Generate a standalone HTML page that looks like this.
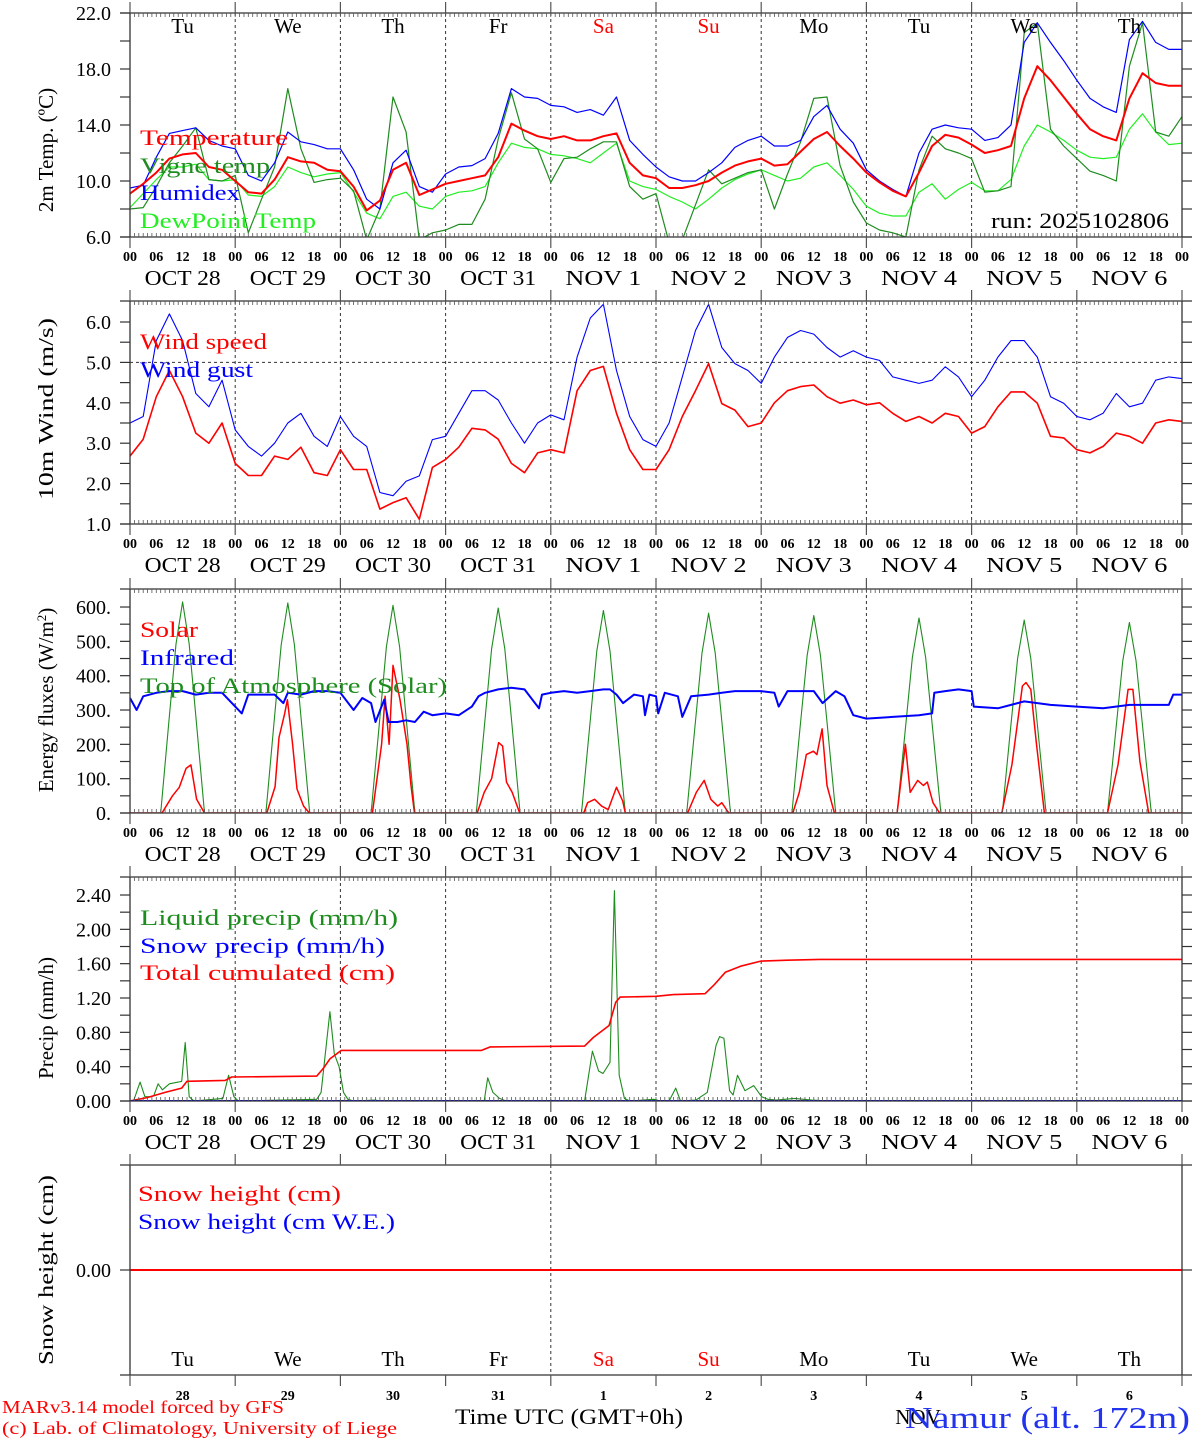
<!DOCTYPE html>
<html><head><meta charset="utf-8">
<style>
html,body{margin:0;padding:0;background:#fff;}
svg{display:block;font-family:"Liberation Serif",serif;}
.tk{font-size:14px;font-weight:bold;text-anchor:middle;}
.dt{font-size:21px;text-anchor:middle;}
.yl{font-size:20px;text-anchor:end;}
.lg{font-size:22px;}
.at{font-size:21px;text-anchor:middle;}
</style></head>
<body>
<svg id="chart" xmlns="http://www.w3.org/2000/svg" width="1194" height="1440" viewBox="0 0 1194 1440">
<rect x="0" y="0" width="1194" height="1440" fill="#fff"/>
<g id="grid"></g>
<g id="marks"></g>
<g id="axes"></g>

<!-- Axis titles -->
<text class="at" transform="translate(53,150) rotate(-90)">2m Temp. (ºC)</text>
<text class="at" transform="translate(53,409) rotate(-90)" textLength="182">10m Wind (m/s)</text>
<text class="at" transform="translate(53,700) rotate(-90)">Energy fluxes (W/m<tspan dy="-7" font-size="13">2</tspan><tspan dy="7">)</tspan></text>
<text class="at" transform="translate(53,1018) rotate(-90)">Precip (mm/h)</text>
<text class="at" transform="translate(53,1270) rotate(-90)" textLength="190">Snow height (cm)</text>

<!-- Legends -->
<text class="lg" x="140" y="145" fill="#ff0000" textLength="148">Temperature</text>
<text class="lg" x="140" y="173" fill="#1e8c1e" textLength="130">Vigne temp</text>
<text class="lg" x="140" y="200" fill="#0000ff" textLength="100">Humidex</text>
<text class="lg" x="140" y="228" fill="#22ee22" textLength="176">DewPoint Temp</text>
<text class="lg" x="991" y="228" fill="#000" textLength="178">run: 2025102806</text>

<text class="lg" x="140" y="349" fill="#ff0000" textLength="127">Wind speed</text>
<text class="lg" x="140" y="377" fill="#0000ff" textLength="113">Wind gust</text>

<text class="lg" x="140" y="637" fill="#ff0000" textLength="58">Solar</text>
<text class="lg" x="140" y="665" fill="#0000ff" textLength="94">Infrared</text>
<text class="lg" x="140" y="693" fill="#1e8c1e" textLength="307">Top of Atmosphere (Solar)</text>

<text class="lg" x="140" y="925" fill="#1e8c1e" textLength="258">Liquid precip (mm/h)</text>
<text class="lg" x="140" y="953" fill="#0000ff" textLength="245">Snow precip (mm/h)</text>
<text class="lg" x="140" y="980" fill="#ff0000" textLength="255">Total cumulated (cm)</text>

<text class="lg" x="138" y="1201" fill="#ff0000" textLength="203">Snow height (cm)</text>
<text class="lg" x="138" y="1229" fill="#0000ff" textLength="257">Snow height (cm W.E.)</text>

<!-- Footer -->
<text x="2" y="1413" font-size="18" fill="#ff0000" textLength="282">MARv3.14 model forced by GFS</text>
<text x="2" y="1434" font-size="18" fill="#ff0000" textLength="395">(c) Lab. of Climatology, University of Liege</text>
<text x="569" y="1424" font-size="22" text-anchor="middle" textLength="228">Time UTC (GMT+0h)</text>
<text x="918" y="1424" font-size="21" text-anchor="middle">NOV</text>
<text x="905" y="1428" font-size="31" fill="#2233ee" textLength="285">Namur (alt. 172m)</text>
</svg>

<script>
// ---------- DATA ----------
const dayNames = ["Tu","We","Th","Fr","Sa","Su","Mo","Tu","We","Th"];
const dayColors = ["#000","#000","#000","#000","#ff0000","#ff0000","#000","#000","#000","#000"];
const dateLabels = ["OCT 28","OCT 29","OCT 30","OCT 31","NOV  1","NOV  2","NOV  3","NOV  4","NOV  5","NOV  6"];
const dayNumbers = ["28","29","30","31","1","2","3","4","5","6"];
const hourLabels = ["00","06","12","18"];

// 3-hourly series (index*3 = hours since Oct 28 00 UTC)
const temperature = [9.1,9.8,10.6,11.6,11.9,12.0,11.0,10.8, 10.0,9.2,9.1,10.1,11.7,11.4,11.3,10.8, 10.7,9.6,7.9,8.6,10.8,11.3,9.0,9.4, 9.8,10.0,10.2,10.4,11.7,14.1,13.6,13.2, 13.0,13.2,12.9,12.9,13.2,13.4,11.3,10.4, 10.2,9.5,9.5,9.7,10.0,10.6,11.1,11.4, 11.6,11.1,11.2,12.1,13.0,13.5,12.5,11.6, 10.6,9.9,9.3,8.9,10.6,12.5,13.3,13.1, 12.6,12.0,12.2,12.5,15.9,18.2,17.2,16.0, 14.8,13.7,13.2,12.9,15.9,17.7,17.0,16.8, 16.8];
const humidex = [9.5,9.7,11.7,13.4,13.6,13.8,12.9,12.5, 12.3,10.4,10.0,11.3,13.5,12.8,12.6,12.3, 12.3,10.8,8.7,8.0,11.3,12.2,9.6,9.2, 10.5,11.0,11.1,11.6,13.4,16.6,16.0,15.9, 15.4,15.3,14.9,15.1,14.7,16.0,12.9,11.9, 11.0,10.3,10.0,10.0,10.6,11.3,12.4,12.9, 13.2,12.5,12.5,12.9,14.6,15.4,13.7,12.7, 10.8,10.0,9.4,8.9,12.0,13.7,14.0,13.8, 13.7,12.9,13.1,14.0,19.9,21.3,19.9,18.6, 17.2,15.9,15.3,14.9,20.1,21.4,19.9,19.4, 19.4];
const dewPoint = [8.1,9.1,10.1,11.0,11.0,11.2,10.1,10.0, 10.1,9.0,8.9,9.6,11.0,10.6,10.3,10.5, 10.6,9.2,7.7,7.3,8.9,9.2,8.2,8.0, 8.9,9.2,9.3,9.6,11.3,12.7,12.4,12.3, 11.9,11.8,11.6,11.3,12.0,12.7,10.0,9.6, 9.4,8.9,8.5,8.0,8.7,9.5,10.1,10.5, 10.8,10.4,10.0,10.2,11.0,11.3,10.4,9.4, 8.2,7.7,7.5,7.5,9.2,9.8,8.7,9.4, 9.9,9.3,9.3,10.1,12.5,14.0,13.5,12.9, 12.2,11.7,11.6,11.7,13.7,14.8,13.5,12.6, 12.7];
const vigneTemp = [8.0,8.1,9.6,11.3,12.5,13.8,10.1,10.0, 10.4,6.3,8.7,11.0,16.6,12.3,9.9,10.1, 10.2,9.3,5.8,8.0,16.0,13.5,5.8,6.3, 6.5,6.9,6.9,8.7,13.0,16.3,13.0,12.3, 9.9,11.6,11.7,12.3,12.8,12.8,9.6,8.7, 9.1,5.6,5.8,8.3,10.8,9.8,10.2,10.6, 10.8,8.0,10.5,12.8,15.9,16.0,11.1,8.5, 7.0,6.5,6.3,6.0,10.8,13.2,12.3,12.0, 11.6,9.2,9.3,9.6,20.6,21.3,13.7,12.5, 11.6,10.7,10.4,10.0,18.2,21.3,13.5,13.2, 14.6];
const windSpeed = [2.68,3.1,4.15,4.8,4.15,3.25,3.0,3.5, 2.5,2.2,2.2,2.68,2.6,2.9,2.27,2.2, 2.84,2.35,2.35,1.37,1.53,1.65,1.12,2.4, 2.6,2.9,3.37,3.33,3.1,2.5,2.27,2.76, 2.84,2.76,4.3,4.8,4.9,3.74,2.84,2.35, 2.35,2.84,3.66,4.3,4.97,3.98,3.82,3.41, 3.5,4.0,4.3,4.4,4.44,4.15,3.99,4.07, 3.95,4.0,3.74,3.54,3.66,3.5,3.74,3.66, 3.25,3.41,3.9,4.27,4.27,3.99,3.17,3.13, 2.84,2.76,2.92,3.25,3.17,3.0,3.5,3.58, 3.54];
const windGust = [3.5,3.66,5.54,6.2,5.54,4.23,3.9,4.56, 3.33,2.92,2.68,3.0,3.5,3.74,3.17,2.92, 3.66,3.17,2.92,1.78,1.7,2.06,2.19,3.09, 3.17,3.74,4.3,4.3,4.07,3.5,3.0,3.5, 3.7,3.58,5.13,6.1,6.44,4.8,3.66,3.09, 2.92,3.5,4.64,5.79,6.44,5.37,4.97,4.8, 4.48,5.13,5.62,5.79,5.7,5.37,5.13,5.29, 5.13,5.05,4.64,4.56,4.48,4.56,4.89,4.64, 4.15,4.56,5.13,5.54,5.54,5.13,4.15,3.99, 3.66,3.58,3.74,4.23,3.9,3.99,4.56,4.64, 4.6];

// irregular-time series: hours + values
const toaHours = [0,7,9,10.5,12,13.5,15,17, 31,33,34.5,36,37.5,39,41, 55,57,58.5,60,61.5,63,65, 79,81,82.5,84,85.5,87,89, 103,105,106.5,108,109.5,111,113, 127,129,130.5,132,133.5,135,137, 151,153,154.5,156,157.5,159,161, 175,177,178.5,180,181.5,183,185, 199,201,202.5,204,205.5,207,209, 223,225,226.5,228,229.5,231,233, 240];
const toaValues = [0,0,283,492,615,492,283,0, 0,282,490,612,490,282,0, 0,278,484,605,484,278,0, 0,275,478,597,478,275,0, 0,271,472,590,472,271,0, 0,268,466,582,466,268,0, 0,265,460,575,460,265,0, 0,261,454,568,454,261,0, 0,259,450,562,450,259,0, 0,255,444,555,444,255,0, 0];
const solarHours = [0,7.3,9.7,11.25,12.8,13.9,15.2,17, 31.2,33.1,34,35.3,35.9,37.1,38.1,39.6,40.9, 55.3,57.4,58.2,59.1,60,61.6,63.2,64.1,64.9, 79.2,80.8,82.5,84.1,85,85.9,87.2,88.9, 103.5,104.4,106,107.6,109.1,111,112.4,113, 127.2,129.2,131,132.5,134.1,135,136.6, 151.2,152.7,154.3,155.9,156.7,157.9,159,160.7, 175,176.9,178,179.7,181,181.9,183.2,184.7, 198.9,201.2,203.6,204.4,205.5,206.8,208.6, 223,225.4,227.7,228.8,230.4,232.4,240];
const solarValues = [0,0,50,75,130,140,40,0, 0,77,220,290,330,200,70,20,0, 0,200,340,200,430,330,200,80,0, 0,60,100,205,195,90,60,0, 0,30,40,20,10,75,35,0, 0,60,95,40,20,30,0, 0,60,170,180,170,245,80,0, 0,200,60,95,80,90,30,0, 0,140,370,380,360,200,0, 0,140,360,360,150,0,0];
const irHours = [0,1.5,3,6,9,12,15,18,21, 24,25.5,27,30,33,35,36,39,42,45, 48,51,53,55,56,58,59,61,63,65,67,69, 72,75,78,79.5,81,84,87,90,93.3,94, 96,99,102,105,108,109.5,111,112.5,115,117,117.5,118.5, 120,120.5,122,125,126,128,132,135,138,141, 144,147,148,150,156,158,161,163,165, 168,174,180,183,183.5,186,189,192,192.5, 198,201,204,210,216,222,228,234,237,238,240];
const irValues = [335,300,340,350,355,355,345,350,350, 310,290,345,345,345,320,350,345,355,355, 350,300,335,320,265,330,265,265,270,265,295,285, 290,285,310,340,350,360,365,360,305,345, 350,355,350,355,360,360,345,320,345,340,285,345, 340,290,350,340,280,340,345,350,355,355, 355,350,310,355,355,320,355,340,285, 275,280,285,290,350,355,360,355,310, 305,315,325,315,310,305,315,315,315,345,345];
const precipHours = [0,0.8,2.3,3.4,4.7,5.4,6.4,7.4,9,11,11.8,12.6,13.5,14.6,21.2,22.5,23.7,24.7, 42.6,43.6,45.6,46.6,47.7,48.7,49.7,51,56,57, 80.8,81.6,82.8,84.3,85.8, 103.7,105.5,106.9,107.9,109.5,110.5,111.6,112.8,114, 119.5,121,123,124.5,125.6,129.1,131.7,133.7,134.5,135.5,136.8,137.6,138.6,140.3,142.3,144.1,145.5,147.5,151.6,155.5,160,240];
const precipValues = [0,0,0.22,0.05,0.05,0.06,0.2,0.13,0.2,0.22,0.23,0.68,0.05,0,0.03,0.3,0.05,0, 0.02,0.1,1.04,0.55,0.4,0.1,0.02,0,0.01,0, 0,0.27,0.1,0.03,0, 0,0.58,0.35,0.32,0.45,2.45,0.3,0.03,0, 0.02,0,0,0.15,0,0.01,0.1,0.65,0.75,0.73,0.12,0.07,0.3,0.12,0.18,0.05,0.02,0.01,0.03,0.01,0,0];
const cumHours = [0,3.9,8,11.8,13,21.7,23.2,42.6,44.1,45.6,48.2,80.2,82.2,103.7,105.7,109.3,110.8,111.8,120,124,131.2,133.2,135.8,139.3,143.9,150,157.4,240];
const cumValues = [0,0.04,0.1,0.15,0.23,0.24,0.28,0.29,0.38,0.49,0.59,0.59,0.63,0.64,0.74,0.88,1.15,1.21,1.22,1.24,1.25,1.35,1.5,1.57,1.63,1.64,1.65,1.65];
const snowPrecipHours = [0,240];
const snowPrecipValues = [0,0];
const snowHeightHours = [0,240];
const snowHeightValues = [0,0];

// tick label arrays
const tempTicks = [6,10,14,18,22];
const tempTickLabels = ["6.0","10.0","14.0","18.0","22.0"];
const tempMinor = [8,12,16,20];
const windTicks = [1,2,3,4,5,6];
const windTickLabels = ["1.0","2.0","3.0","4.0","5.0","6.0"];
const windMinor = [1.5,2.5,3.5,4.5,5.5];
const energyTicks = [0,100,200,300,400,500,600];
const energyTickLabels = ["0.","100.","200.","300.","400.","500.","600."];
const energyMinor = [50,150,250,350,450,550];
const precipTicks = [0,0.4,0.8,1.2,1.6,2.0,2.4];
const precipTickLabels = ["0.00","0.40","0.80","1.20","1.60","2.00","2.40"];
const precipMinor = [0.2,0.6,1.0,1.4,1.8,2.2];
const snowTicks = [0];
const snowTickLabels = ["0.00"];

// ---------- LAYOUT ----------
const NS = "http://www.w3.org/2000/svg";
const X0 = 130, X1 = 1182, HOURS = 240;
const P = {
  temp:   {top:13,  bottom:237,  min:6,  max:22},
  wind:   {top:301, bottom:524,  min:1,  max:1+223/40.4},
  energy: {top:589, bottom:813,  min:0,  max:224/0.3433},
  precip: {top:877, bottom:1101, min:0,  max:224/85.83},
  snow:   {top:1165,bottom:1375, min:-1, max:1}
};
function xOf(h){ return X0 + h*(X1-X0)/HOURS; }
function yOf(p,v){ return p.bottom - (v-p.min)/(p.max-p.min)*(p.bottom-p.top); }
const grid = document.getElementById('grid');
const marks = document.getElementById('marks');
const axes = document.getElementById('axes');
const svg = document.getElementById('chart');
function mk(tag, attrs, parent){
  const el = document.createElementNS(NS, tag);
  for (const k in attrs) el.setAttribute(k, attrs[k]);
  parent.appendChild(el);
  return el;
}
const defs = mk('defs', {}, svg);
for (const key in P){
  const p = P[key];
  const cp = mk('clipPath', {id:'clip-'+key}, defs);
  mk('rect', {x:X0, y:p.top, width:X1-X0, height:p.bottom-p.top}, cp);
}
function lineSeries(key, name, hours, values, color, width){
  const p = P[key];
  let d = '';
  for (let i=0;i<values.length;i++){
    d += (i?'L':'M') + xOf(hours[i]).toFixed(1) + ',' + yOf(p, values[i]).toFixed(1);
  }
  const el = mk('path', {d:d, fill:'none', stroke:color, 'stroke-width':width, 'stroke-linejoin':'round', 'clip-path':'url(#clip-'+key+')'}, marks);
  
  
  return el;
}
function stepHours(arr){ return arr.map((v,i)=>i*3); }

// ---------- FRAMES, GRID, TICKS ----------
const panelKeys = ['temp','wind','energy','precip','snow'];
panelKeys.forEach((key) => {
  const p = P[key];
  const t = mk('line', {x1:120, y1:p.top, x2:1192, y2:p.top, stroke:'#333', 'stroke-width':1.3}, axes);
  
  
  const b = mk('line', {x1:120, y1:p.bottom, x2:1192, y2:p.bottom, stroke:'#333', 'stroke-width':1.3}, axes);
  
  
  const l = mk('line', {x1:X0, y1:p.top, x2:X0, y2:p.bottom, stroke:'#333', 'stroke-width':1.3}, axes);
  
  
  const r = mk('line', {x1:X1, y1:p.top, x2:X1, y2:p.bottom, stroke:'#333', 'stroke-width':1.3}, axes);
  
  

  for (let d=0; d<=10; d++){
    const x = xOf(d*24);
    if (d>0 && d<10 && (key!=='snow' || d===4)){
      const g = mk('line', {x1:x, y1:p.top, x2:x, y2:p.bottom, stroke:'#333', 'stroke-width':1, 'stroke-dasharray':'3,3'}, grid);
      
      
    }
    const mt = mk('line', {x1:x, y1:p.top-11, x2:x, y2:p.top, stroke:'#555', 'stroke-width':1.2}, axes);
    
    
    const mb = mk('line', {x1:x, y1:p.bottom, x2:x, y2:p.bottom+11, stroke:'#555', 'stroke-width':1.2}, axes);
    
    
  }
  if (key!=='snow'){
    let d = '';
    for (let h=1; h<HOURS; h++){
      const x = xOf(h).toFixed(1);
      d += 'M'+x+','+p.top+'v4M'+x+','+p.bottom+'v-4';
    }
    const mt = mk('path', {d:d, stroke:'#555', 'stroke-width':0.8, fill:'none'}, axes);
    
    
    for (let dd=0; dd<10; dd++){
      for (let k=0; k<4; k++){
        const tx = mk('text', {x:xOf(dd*24+k*6), y:p.bottom+24, class:'tk'}, axes);
        tx.textContent = hourLabels[k];
        
        
      }
      const dt = mk('text', {x:xOf(dd*24+12), y:p.bottom+48, class:'dt', 'xml:space':'preserve', textLength:76}, axes);
      dt.textContent = dateLabels[dd];
      
      
    }
    const last = mk('text', {x:xOf(240), y:p.bottom+24, class:'tk'}, axes);
    last.textContent = hourLabels[0];
    
    
  }
});

function yTicks(key, majors, labels, minors){
  const p = P[key];
  majors.forEach((v,i)=>{
    const y = yOf(p,v);
    const tl = mk('line', {x1:120, y1:y, x2:X0, y2:y, stroke:'#333', 'stroke-width':1.2}, axes);
    
    
    const tr = mk('line', {x1:X1, y1:y, x2:1192, y2:y, stroke:'#333', 'stroke-width':1.2}, axes);
    
    
    const tx = mk('text', {x:111, y:y+7, class:'yl'}, axes);
    tx.textContent = labels[i];
    
    
  });
  minors.forEach(v=>{
    const y = yOf(p,v);
    const tl = mk('line', {x1:120, y1:y, x2:X0, y2:y, stroke:'#333', 'stroke-width':1.2}, axes);
    
    
    const tr = mk('line', {x1:X1, y1:y, x2:1192, y2:y, stroke:'#333', 'stroke-width':1.2}, axes);
    
    
  });
}
yTicks('temp', tempTicks, tempTickLabels, tempMinor);
yTicks('wind', windTicks, windTickLabels, windMinor);
yTicks('energy', energyTicks, energyTickLabels, energyMinor);
yTicks('precip', precipTicks, precipTickLabels, precipMinor);
yTicks('snow', snowTicks, snowTickLabels, []);

const ref = mk('line', {x1:X0, y1:yOf(P.wind,5), x2:X1, y2:yOf(P.wind,5), stroke:'#333', 'stroke-width':1, 'stroke-dasharray':'3,3'}, grid);



for (let d=0; d<10; d++){
  const t1 = mk('text', {x:xOf(d*24+12), y:33, 'font-size':21, 'text-anchor':'middle', fill:dayColors[d]}, axes);
  t1.textContent = dayNames[d];
  
  
  const t2 = mk('text', {x:xOf(d*24+12), y:1366, 'font-size':21, 'text-anchor':'middle', fill:dayColors[d]}, axes);
  t2.textContent = dayNames[d];
  
  
  const t3 = mk('text', {x:xOf(d*24+12), y:1400, 'font-size':14, 'font-weight':'bold', 'text-anchor':'middle'}, axes);
  t3.textContent = dayNumbers[d];
  
  
}

// ---------- SERIES ----------
lineSeries('temp','dewpoint-line', stepHours(dewPoint), dewPoint, '#22ee22', 1.2);
lineSeries('temp','vigne-temp-line', stepHours(vigneTemp), vigneTemp, '#1e8c1e', 1.2);
lineSeries('temp','humidex-line', stepHours(humidex), humidex, '#0000ff', 1.2);
lineSeries('temp','temperature-line', stepHours(temperature), temperature, '#ff0000', 2);

lineSeries('wind','wind-speed-line', stepHours(windSpeed), windSpeed, '#ff0000', 1.6);
lineSeries('wind','wind-gust-line', stepHours(windGust), windGust, '#0000ff', 1.1);

lineSeries('energy','toa-solar-line', toaHours, toaValues, '#1e8c1e', 1.1);
lineSeries('energy','solar-line', solarHours, solarValues, '#ff0000', 1.5);
lineSeries('energy','infrared-line', irHours, irValues, '#0000ff', 2);

lineSeries('precip','liquid-precip-line', precipHours, precipValues, '#1e8c1e', 1.1);
lineSeries('precip','cumulated-precip-line', cumHours, cumValues, '#ff0000', 1.6);
lineSeries('precip','snow-precip-line', snowPrecipHours, snowPrecipValues, '#0000ff', 2);

lineSeries('snow','snow-height-we-line', snowHeightHours, snowHeightValues, '#0000ff', 1.5);
lineSeries('snow','snow-height-line', snowHeightHours, snowHeightValues, '#ff0000', 2);

// stretch glyphs (not only spacing) wherever a target width is given
document.querySelectorAll('[textLength]').forEach(el => el.setAttribute('lengthAdjust', 'spacingAndGlyphs'));
</script>
</body></html>
